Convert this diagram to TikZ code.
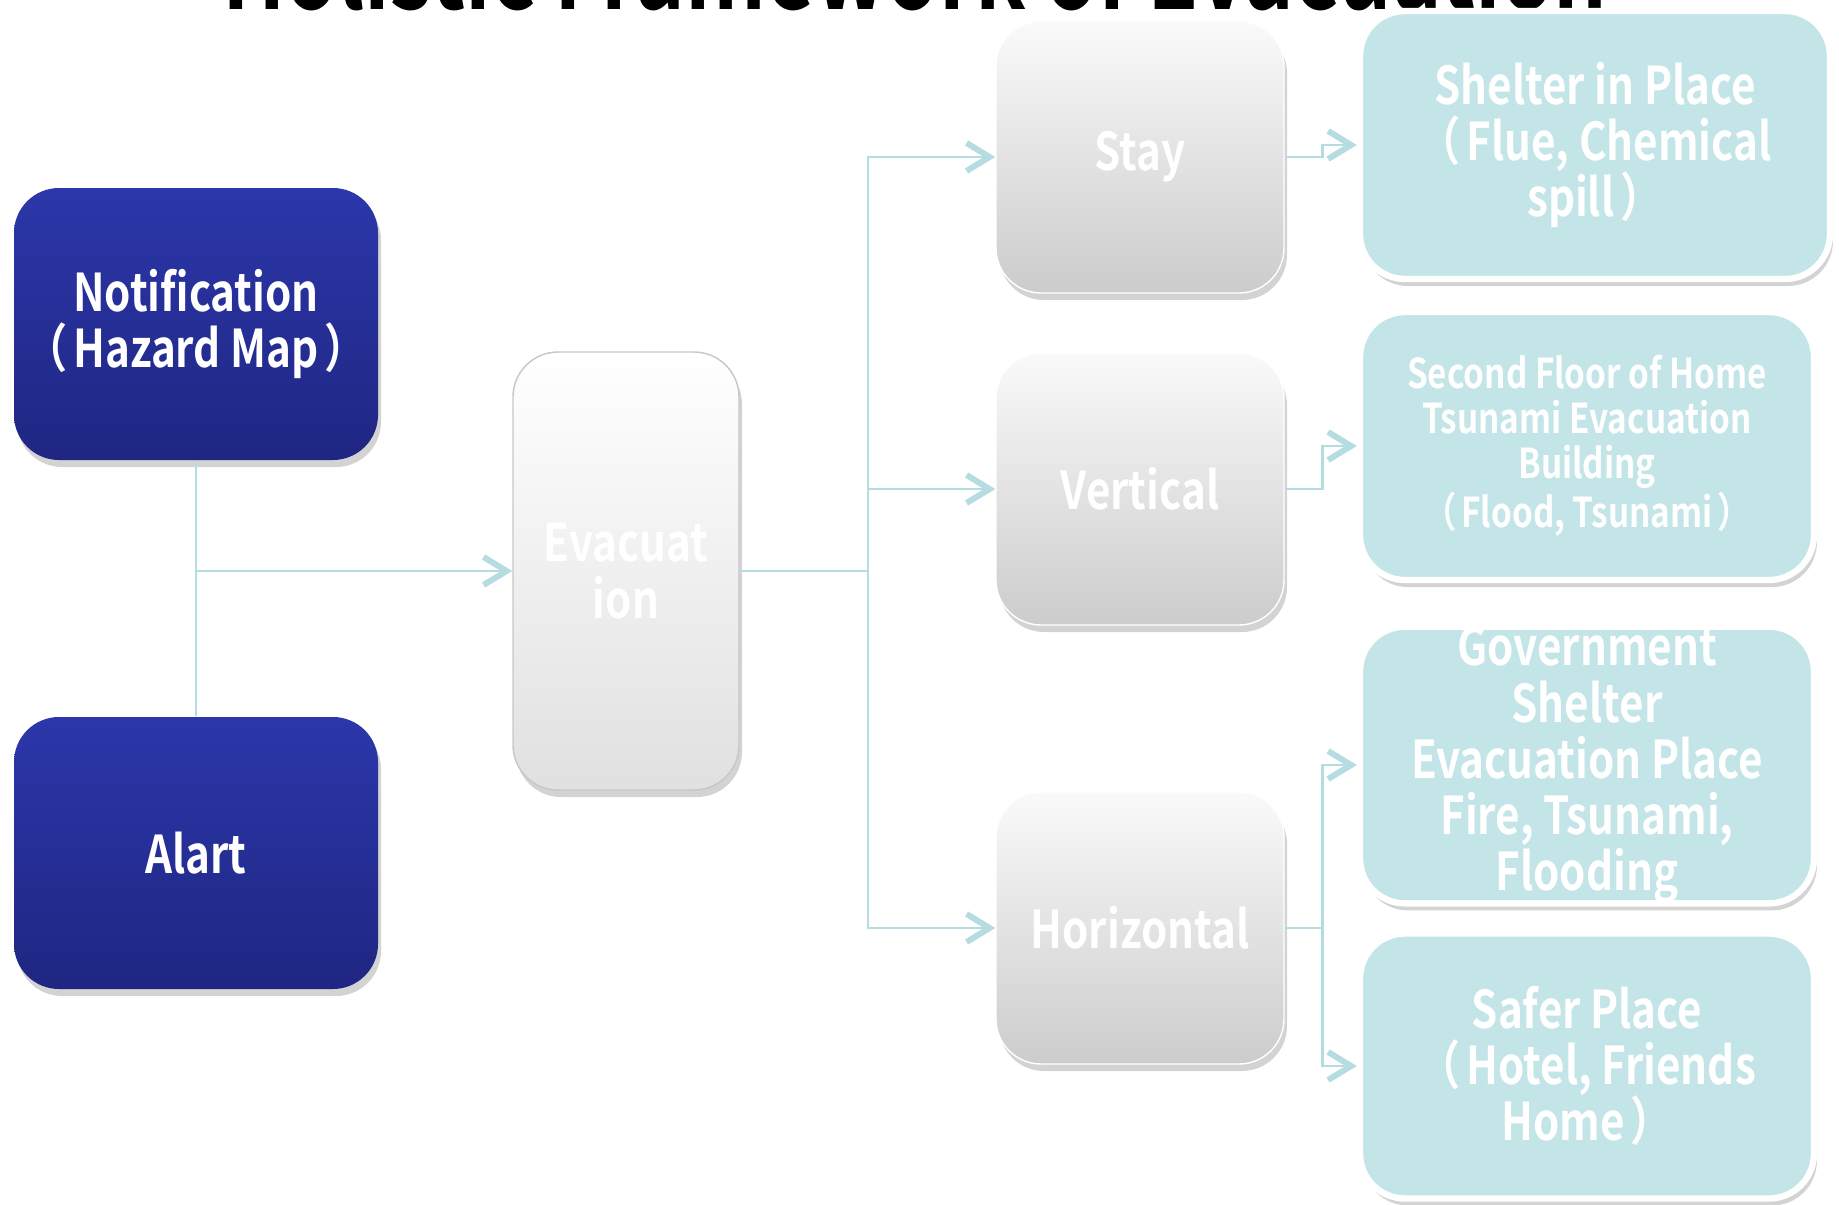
\documentclass[tikz,border=0pt]{standalone}
\usepackage{fontspec}
\usetikzlibrary{arrows.meta,shadows}
\newfontfamily\jpfont{Noto Sans CJK JP}[FakeStretch=0.81,BoldFont={Noto Sans CJK JP Bold}]
\newcommand\bigtxt{\fontsize{14.8}{16}\selectfont}
\newcommand\smalltxt{\fontsize{11.7}{12.8}\selectfont}
\newcommand\lpar{（\hspace{0.12em}}
\newcommand\rpar{\hspace{0.12em}）}
\definecolor{linkcol}{HTML}{B5DCE0}
\definecolor{tealfill}{HTML}{C4E5E7}
\definecolor{bluetop}{HTML}{2C37AA}
\definecolor{bluebot}{HTML}{1F2682}
\tikzset{
  box/.style={rounded corners=4.5mm, align=center, text=white, inner sep=0pt,
    font=\jpfont\bfseries\bigtxt},
  bluebox/.style={box, top color=bluetop, bottom color=bluebot,
    minimum width=36.4mm, minimum height=27.2mm,
    drop shadow={shadow xshift=0.3mm, shadow yshift=-0.7mm, opacity=0.35}},
  graybox/.style={box, top color=black!2, bottom color=black!20, draw=white,
    minimum width=28.8mm, minimum height=27.2mm,
    drop shadow={shadow xshift=0.3mm, shadow yshift=-0.7mm, opacity=0.35}},
  tealbox/.style={box, fill=tealfill, draw=white, line width=1.8pt,
    minimum width=45.4mm, minimum height=26.8mm,
    drop shadow={shadow xshift=0.3mm, shadow yshift=-0.7mm, opacity=0.35}},
  link/.style={draw=linkcol, line width=0.8pt},
  arr/.style={link, -{Straight Barb[length=2.3mm,width=2.8mm,line width=1.7pt]}},
}
\begin{document}
\begin{tikzpicture}[x=0.1mm,y=-0.1mm]
  \useasboundingbox (0,0) rectangle (1839,1205);
  \node (title) at (915,9) [anchor=base, font=\jpfont\bfseries\fontsize{29.5}{32}\selectfont] {Holistic Framework of Evacuation};

  \node (notif) at (196,324) [bluebox] {Notification\\\lpar Hazard Map\rpar};
  \node (alart) at (196,853) [bluebox] {Alart};
  \node (evac) at (626,571) [graybox, top color=white, bottom color=black!12, draw=black!22,
    minimum width=22.6mm, minimum height=43.8mm] {Evacuat\\ion};
  \node (stay) at (1140,157) [graybox] {Stay};
  \node (vert) at (1140,489) [graybox] {Vertical};
  \node (horiz) at (1140,928) [graybox] {Horizontal};
  \node (shelter) at (1595,145) [tealbox, minimum width=47mm] {Shelter in Place\\\lpar Flue, Chemical\\spill\rpar};
  \node (second) at (1587,446) [tealbox, font=\jpfont\bfseries\smalltxt] {Second Floor of Home\\Tsunami Evacuation\\Building\\\lpar Flood, Tsunami\rpar};
  \node (govt) at (1587,765) [tealbox] {Government\\Shelter\\Evacuation Place\\Fire, Tsunami,\\Flooding};
  \node (safer) at (1587,1066) [tealbox, minimum height=26.5mm] {Safer Place\\\lpar Hotel, Friends\\Home\rpar};

  \draw[link] (notif.south) -- (alart.north);
  \draw[arr] (notif.south |- evac.west) -- (evac.west);

  \coordinate (split) at (868,571);
  \draw[link] (evac.east) -- (split);
  \draw[arr] (split) |- (stay.west);
  \draw[arr] (split) |- (vert.west);
  \draw[arr] (split) |- (horiz.west);

  \draw[arr] (stay.east) -- ++(38,0) |- (shelter.west);
  \draw[arr] (vert.east) -- ++(38,0) |- (second.west);
  \coordinate (hsplit) at ([xshift=3.8mm]horiz.east);
  \draw[link] (horiz.east) -- (hsplit);
  \draw[arr] (hsplit) |- (govt.west);
  \draw[arr] (hsplit) |- (safer.west);
\end{tikzpicture}
\end{document}
